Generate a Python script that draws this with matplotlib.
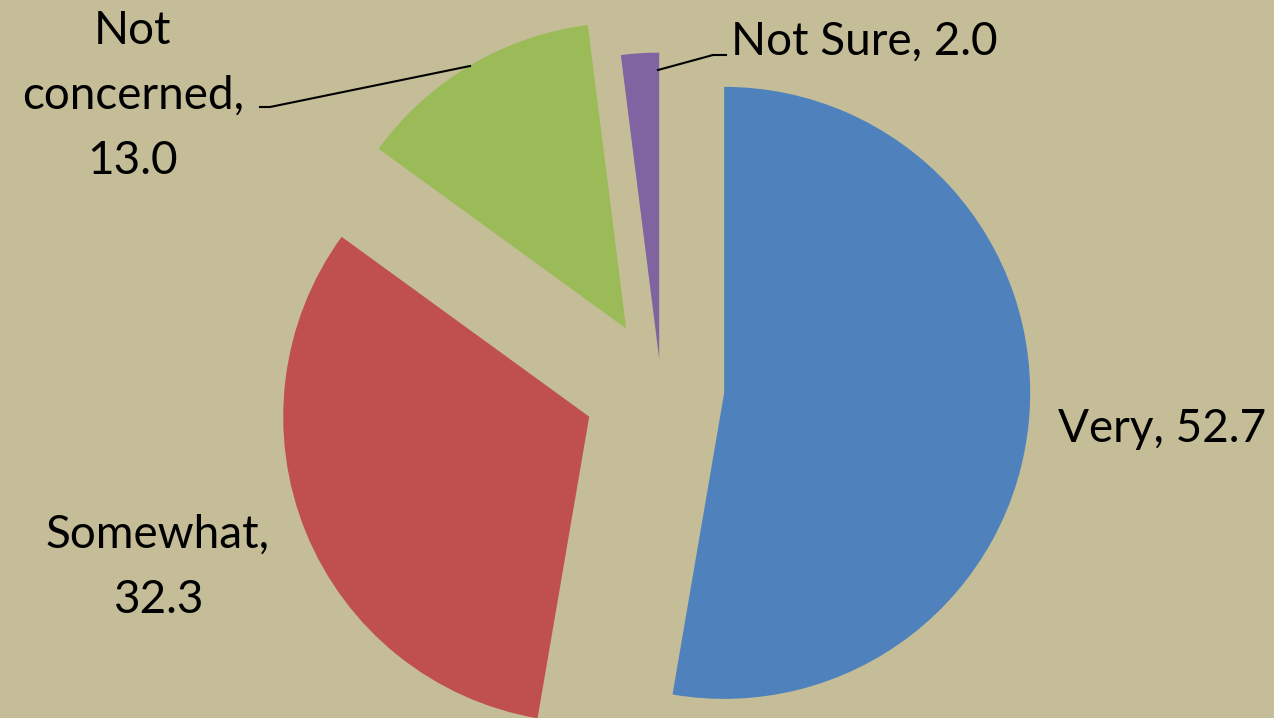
import matplotlib.pyplot as plt

# data
labels = ["Very", "Somewhat", "Not concerned", "Not Sure"]
values = [52.7, 32.3, 13.0, 2.0]

# style
colors = ["#4F81BD", "#C0504D", "#9BBB59", "#8064A2"]
bg = "#C4BD97"
W, H = 1274, 718
center = (661, H - 387.5)
radius = 306
explode = [63.4, 77.5, 68.4, 28.9]  # pixel offsets of each slice

plt.rcParams['font.family'] = ['Lato', 'DejaVu Sans']

fig = plt.figure(figsize=(W / 100, H / 100), dpi=100, facecolor=bg)
ax = fig.add_axes([0, 0, 1, 1])
ax.set_facecolor(bg)

ax.pie(values, colors=colors, explode=explode, radius=radius, center=center,
       startangle=90, counterclock=False, frame=False,
       wedgeprops=dict(linewidth=0))
ax.set_xlim(0, W)
ax.set_ylim(0, H)
ax.set_aspect('equal')
ax.axis('off')

fs = 33
ls = 1.68
txt = [f"{l}, {v:.1f}" for l, v in zip(labels, values)]

# data labels (positions in image pixels, y from top; baseline of last line)
ax.text(1162, H - 442, txt[0], ha='center', va='baseline', fontsize=fs)
ax.text(158, H - 613, "Somewhat,\n32.3", ha='center', va='baseline',
        fontsize=fs, linespacing=ls)
ax.text(133, H - 174, "Not\nconcerned,\n13.0", ha='center', va='baseline',
        fontsize=fs, linespacing=ls)
ax.text(731, H - 55, txt[3], ha='left', va='baseline', fontsize=fs)

# leader lines
ax.plot([470, 270, 260], [H - 66, H - 107, H - 107], color='black', lw=1.5)
ax.plot([658, 713, 726], [H - 70, H - 55, H - 55], color='black', lw=1.5)

fig.savefig("out.png", dpi=100, facecolor=bg)
